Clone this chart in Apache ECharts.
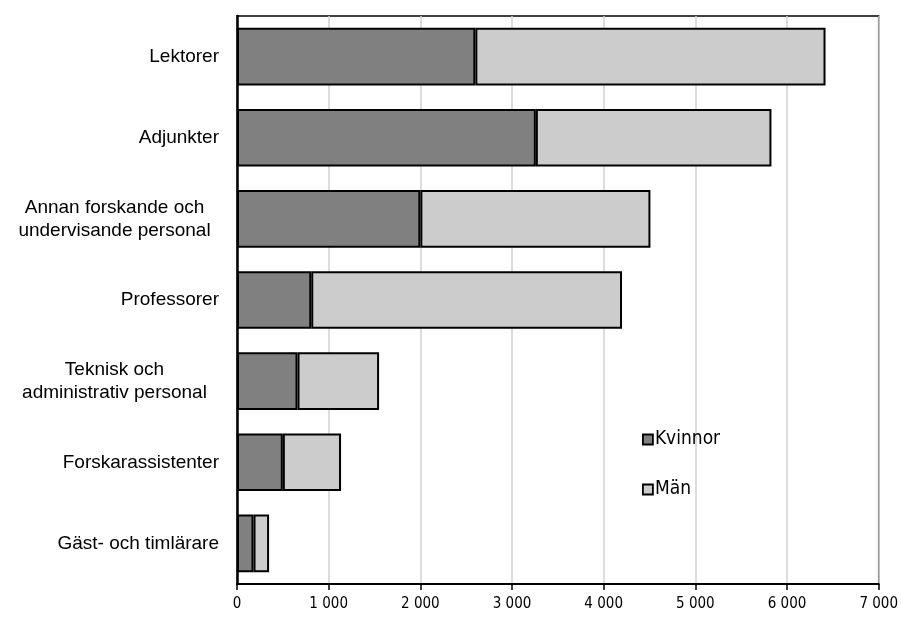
<!DOCTYPE html>
<html>
<head>
<meta charset="utf-8">
<script src="https://cdn.jsdelivr.net/npm/echarts@6/dist/echarts.min.js"></script>
<style>html,body{margin:0;padding:0;background:#fff}#c{width:901px;height:625px}</style>
</head>
<body>
<div id="c"></div>
<script>
const categories = ["Lektorer", "Adjunkter", "Annan forskande och\nundervisande personal", "Professorer", "Teknisk och\nadministrativ personal", "Forskarassistenter", "Gäst- och timlärare"];
const kvinnor = [2600, 3260, 2000, 810, 660, 500, 180];
const man = [3820, 2570, 2510, 3390, 890, 635, 170];
const xTicks = [0, 1000, 2000, 3000, 4000, 5000, 6000, 7000];

const chart = echarts.init(document.getElementById('c'), null, {renderer: 'canvas'});
chart.setOption({
  animation: false,
  backgroundColor: '#fff',
  grid: {left: 237, right: 21, top: 16, bottom: 41, show: true, borderColor: '#000', borderWidth: 1.5, backgroundColor: 'transparent'},
  legend: {
    orient: 'vertical', left: 637, top: 425, itemGap: 31, itemWidth: 10, itemHeight: 10,
    icon: 'rect',
    textStyle: {fontFamily: 'DejaVu Sans Condensed, Liberation Sans', fontSize: 19, color: '#000', padding: [0,0,0,-3]},
    itemStyle: {borderColor: '#000', borderWidth: 1.8},
    data: ['Kvinnor', 'Män']
  },
  xAxis: {
    type: 'value', min: 0, max: 7000, interval: 1000,
    axisLine: {show: true, lineStyle: {color: '#000', width: 2}},
    axisTick: {show: true, length: 6, lineStyle: {color: '#000', width: 1.5}},
    splitLine: {show: true, lineStyle: {color: '#d0d0d0', width: 1.5}},
    axisLabel: {
      margin: 13, fontFamily: 'DejaVu Sans Condensed, Liberation Sans', fontSize: 15, color: '#000',
      formatter: v => xTicks.includes(v) ? (v >= 1000 ? Math.floor(v/1000) + ' ' + String(v%1000).padStart(3,'0') : String(v)) : ''
    }
  },
  yAxis: {
    type: 'category', data: categories, inverse: true,
    axisLine: {show: true, lineStyle: {color: '#000', width: 2.5}},
    axisTick: {show: false},
    axisLabel: {
      margin: 18, fontFamily: 'Liberation Sans, Arial', fontSize: 19, color: '#000', align: 'right', lineHeight: 23,
      formatter: v => v.includes('\n') ? v.split('\n').map(l => '{c|' + l + '}').join('\n') : v,
      rich: {c: {width: 209, align: 'center', fontFamily: 'Liberation Sans, Arial', fontSize: 19, lineHeight: 23, color: '#000'}}
    }
  },
  series: [
    {name: 'Kvinnor', type: 'bar', stack: 's', data: kvinnor, barCategoryGap: '29%',
     itemStyle: {color: '#808080', borderColor: '#000', borderWidth: 2}},
    {name: 'Män', type: 'bar', stack: 's', data: man, barCategoryGap: '29%',
     itemStyle: {color: '#cccccc', borderColor: '#000', borderWidth: 2}}
  ]
});
</script>
</body>
</html>
